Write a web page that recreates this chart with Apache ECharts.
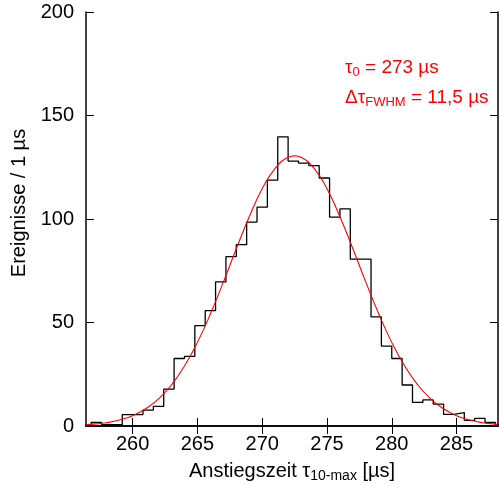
<!DOCTYPE html>
<html>
<head>
<meta charset="utf-8">
<script src="https://cdn.jsdelivr.net/npm/echarts@6/dist/echarts.min.js"></script>
<style>
    html, body { margin: 0; padding: 0; background: #fff; }
    #chart { width: 499px; height: 488px; }
</style>
</head>
<body>
<div id="chart"></div>
<script>
// Histogramm: linke Binkanten [µs] und Einträge (Ereignisse / 1 µs)
var binEdges = [256.0, 256.8, 257.6, 258.4, 259.2, 260.0, 260.8, 261.6, 262.4, 263.2,
    264.0, 264.8, 265.6, 266.4, 267.2, 268.0, 268.8, 269.6, 270.4, 271.2,
    272.0, 272.8, 273.6, 274.4, 275.2, 276.0, 276.8, 277.6, 278.4, 279.2,
    280.0, 280.8, 281.6, 282.4, 283.2, 284.0, 284.8, 285.6, 286.4, 287.2, 288.0];
var binWidth = 0.8;
var counts = [0.3, 1.7, 0.6, 0.6, 5.5, 5.5, 7.7, 9.5, 17.8, 32.6,
    33.6, 48.5, 55.7, 69.6, 81.8, 87.6, 98.5, 105.7, 118.8, 139.7,
    128.0, 127.0, 125.8, 119.8, 100.9, 104.9, 80.6, 80.6, 52.7, 38.6,
    32.6, 19.8, 11.4, 12.6, 10.6, 5.6, 6.5, 2.7, 3.7, 1.7, 0.6];

var fitX = [256.4, 257, 258, 259, 260, 261, 262, 263, 264, 265, 266, 267, 268, 269, 270, 271, 272,
    272.5, 273, 274, 275, 276, 277, 278, 279, 280, 281, 282, 283, 284, 285, 286, 287, 288, 288.2];
var fitY = [0.6, 0.9, 1.6, 2.9, 5.0, 8.3, 13.1, 19.9, 29.0, 40.4, 54.1, 69.5, 85.6, 101.1, 114.6, 124.5, 129.8,
    130.5, 129.8, 124.5, 114.6, 101.1, 85.6, 69.5, 54.1, 40.4, 29.0, 19.9, 13.1, 8.3, 5.0, 2.9, 1.6, 0.9, 0.75];

var xTicks = [260, 265, 270, 275, 280, 285];

var fontName = 'Liberation Sans, Arial, sans-serif';

var histData = [];
for (var i = 0; i < binEdges.length; i++) {
    histData.push([binEdges[i], counts[i]]);
}
histData.push([binEdges[binEdges.length - 1] + binWidth, counts[counts.length - 1]]);

var fitData = [];
for (var j = 0; j < fitX.length; j++) {
    fitData.push([fitX[j], fitY[j]]);
}

var frameLine = { show: true, lineStyle: { color: '#000', width: 1.5 } };
var tickStyle = { color: '#000', width: 1 };

var myChart = echarts.init(document.getElementById('chart'), null, { renderer: 'canvas' });
var option = {
    animation: false,
    backgroundColor: '#fff',
    textStyle: { fontFamily: fontName },
    grid: { left: 86, right: 1, top: 12, bottom: 61 },
    xAxis: [{
        type: 'value',
        min: 256.4,
        max: 288.2,
        position: 'bottom',
        axisLine: frameLine,
        splitLine: { show: false },
        axisTick: { show: true, inside: true, length: 8, customValues: xTicks, lineStyle: tickStyle },
        axisLabel: { customValues: xTicks, color: '#000', fontSize: 20, margin: 8, fontFamily: fontName },
        name: 'Anstiegszeit τ{sub|10-max} [µs]',
        nameLocation: 'middle',
        nameGap: 33,
        nameTextStyle: {
            color: '#000', fontSize: 20, fontFamily: fontName,
            rich: { sub: { fontSize: 14, color: '#000', padding: [10, 0, 0, 0], fontFamily: fontName } }
        }
    }, {
        type: 'value',
        min: 256.4,
        max: 288.2,
        position: 'top',
        axisLine: frameLine,
        splitLine: { show: false },
        axisTick: { show: true, inside: true, length: 8, customValues: xTicks, lineStyle: tickStyle },
        axisLabel: { show: false }
    }],
    yAxis: [{
        type: 'value',
        min: 0,
        max: 200,
        interval: 50,
        axisLine: frameLine,
        splitLine: { show: false },
        axisTick: { show: true, inside: true, length: 8, lineStyle: tickStyle },
        axisLabel: { color: '#000', fontSize: 20, margin: 12, fontFamily: fontName },
        name: 'Ereignisse / 1 µs',
        nameLocation: 'middle',
        nameGap: 52,
        nameTextStyle: { color: '#000', fontSize: 20, fontFamily: fontName, padding: [0, 0, 0, 32] }
    }, {
        type: 'value',
        min: 0,
        max: 200,
        interval: 50,
        position: 'right',
        axisLine: frameLine,
        splitLine: { show: false },
        axisTick: { show: true, inside: true, length: 8, lineStyle: tickStyle },
        axisLabel: { show: false }
    }],
    graphic: [{
        type: 'text',
        left: 345,
        top: 58,
        style: {
            text: '{a|τ}{s|0}{a| = 273 µs}',
            rich: {
                a: { fontSize: 19, fill: '#ff0000', fontFamily: fontName },
                s: { fontSize: 13, fill: '#ff0000', padding: [9, 0, 0, 0], fontFamily: fontName }
            }
        }
    }, {
        type: 'text',
        left: 345,
        top: 88,
        style: {
            text: '{a|Δτ}{s|FWHM}{a| = 11,5 µs}',
            rich: {
                a: { fontSize: 19, fill: '#ff0000', fontFamily: fontName },
                s: { fontSize: 13, fill: '#ff0000', padding: [9, 0, 0, 0], fontFamily: fontName }
            }
        }
    }],
    series: [{
        type: 'line',
        name: 'Histogramm',
        step: 'end',
        data: histData,
        showSymbol: false,
        clip: true,
        lineStyle: { color: '#000', width: 1.3 }
    }, {
        type: 'line',
        name: 'Fit',
        data: fitData,
        smooth: true,
        showSymbol: false,
        clip: true,
        lineStyle: { color: '#ff0000', width: 1.1 }
    }]
};
myChart.setOption(option);
</script>
</body>
</html>
